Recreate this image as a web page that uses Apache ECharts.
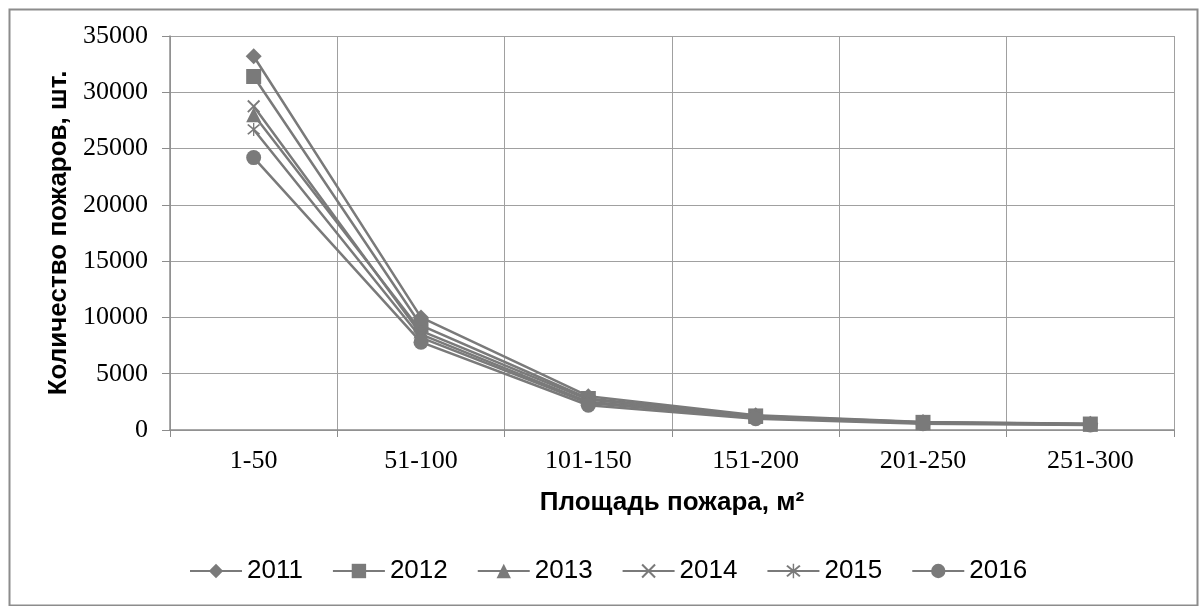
<!DOCTYPE html>
<html>
<head>
<meta charset="utf-8">
<script src="https://cdn.jsdelivr.net/npm/echarts@6/dist/echarts.min.js"></script>
<style>html,body{margin:0;padding:0;background:#fff}#c{width:1200px;height:606px}</style>
</head>
<body>
<div id="c"></div>
<script>
const categories = ['1-50', '51-100', '101-150', '151-200', '201-250', '251-300'];
const years = ['2011', '2012', '2013', '2014', '2015', '2016'];
const s2011 = [33200, 10000, 3000, 1300, 700, 550];
const s2012 = [31400, 9300, 2800, 1250, 680, 530];
const s2013 = [28000, 8800, 2700, 1200, 650, 510];
const s2014 = [28750, 8500, 2500, 1150, 620, 500];
const s2015 = [26700, 8200, 2400, 1100, 600, 480];
const s2016 = [24200, 7800, 2200, 1000, 560, 450];
const yTicks = [0, 5000, 10000, 15000, 20000, 25000, 30000, 35000];

const seriesData = [s2011, s2012, s2013, s2014, s2015, s2016];
const xPath = 'path://M0,0.1L0.1,0L1,0.9L0.9,1Z M0.9,0L1,0.1L0.1,1L0,0.9Z';
const starPath = 'path://M0,0.1L0.1,0L1,0.9L0.9,1Z M0.9,0L1,0.1L0.1,1L0,0.9Z M0.45,-0.1L0.55,-0.1L0.55,1.1L0.45,1.1Z';
const symbols = ['diamond', 'rect', 'triangle', xPath, starPath, 'circle'];
const sizes = [16, 15, 15, 13, 13, 15];
const gray = '#7a7a7a';

const chart = echarts.init(document.getElementById('c'));
chart.setOption({
  animation: false,
  backgroundColor: '#ffffff',
  graphic: [{
    type: 'rect', left: 7, top: 7,
    shape: { width: 1188, height: 596 },
    style: { fill: 'none', stroke: '#8c8c8c', lineWidth: 2 },
    silent: true, z: -1
  }],
  grid: { left: 170, right: 26, top: 36, bottom: 176 },
  legend: {
    left: 184, top: 553,
    itemWidth: 52, itemHeight: 18, itemGap: 29,
    textStyle: { fontFamily: 'Liberation Sans', fontSize: 26, color: '#000' },
    data: years
  },
  xAxis: {
    type: 'category',
    data: categories,
    boundaryGap: true,
    name: 'Площадь пожара, м²',
    nameLocation: 'middle',
    nameGap: 60,
    nameTextStyle: { fontFamily: 'Liberation Sans', fontWeight: 'bold', fontSize: 26, color: '#000' },
    axisLine: { lineStyle: { color: '#8c8c8c', width: 1.5 } },
    axisTick: { show: true, length: 7, lineStyle: { color: '#8c8c8c' } },
    axisLabel: { fontFamily: 'Liberation Serif', fontSize: 26, color: '#000', margin: 18 },
    splitLine: { show: true, lineStyle: { color: '#a0a0a0', width: 1 } }
  },
  yAxis: {
    type: 'value',
    min: 0, max: 35000, interval: 5000,
    name: 'Количество пожаров, шт.',
    nameLocation: 'middle',
    nameGap: 94,
    nameRotate: 90,
    nameTextStyle: { fontFamily: 'Liberation Sans', fontWeight: 'bold', fontSize: 26, color: '#000' },
    axisLine: { show: true, lineStyle: { color: '#8c8c8c', width: 1.5 } },
    axisTick: { show: true, length: 8, lineStyle: { color: '#8c8c8c' } },
    axisLabel: {
      fontFamily: 'Liberation Serif', fontSize: 26, color: '#000', margin: 22,
      formatter: v => yTicks.includes(v) ? String(v) : ''
    },
    splitLine: { show: true, lineStyle: { color: '#a0a0a0', width: 1 } }
  },
  series: years.map((y, i) => ({
    name: y,
    type: 'line',
    data: seriesData[i],
    symbol: symbols[i],
    symbolSize: sizes[i],
    showAllSymbol: true,
    color: gray,
    lineStyle: { color: gray, width: 2.5 },
    itemStyle: { color: gray }
  }))
});
</script>
</body>
</html>
